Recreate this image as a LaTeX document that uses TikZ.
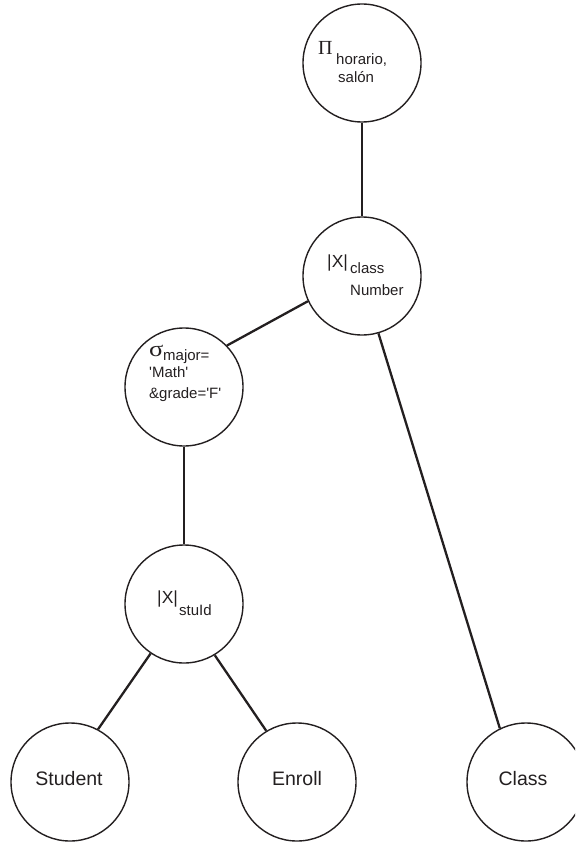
\documentclass[tikz,border=0pt]{standalone}
\usepackage{fontspec}
\setmainfont{Liberation Sans}
\newfontfamily\plainsans{Liberation Sans}[Ligatures=ResetAll]
\newfontfamily\grk{Liberation Serif}
\definecolor{ink}{HTML}{231F20}
\begin{document}
\begin{tikzpicture}[x=1pt,y=-1pt,
  circ/.style={draw=ink, circle, line width=1.4pt, minimum size=118pt, inner sep=0pt},
  edge/.style={draw=ink, line width=2.3pt},
  lbl/.style={anchor=base, inner sep=0pt, text=ink, font=\fontsize{19.5}{20}\selectfont},
  greek/.style={anchor=base west, inner sep=0pt, text=ink, font=\grk\fontsize{20}{20}\selectfont},
  jn/.style={anchor=base west, inner sep=0pt, text=ink, font=\fontsize{17.5}{18}\selectfont},
  sub/.style={anchor=base west, inner sep=0pt, text=ink, font=\plainsans\fontsize{15}{16}\selectfont}]
\useasboundingbox (0,0) rectangle (575,842);
\clip (0,0) rectangle (575,842);
% circles
\node[circ] (pi)  at (362,63)  {};
\node[circ] (j1)  at (362,276) {};
\node[circ] (sig) at (184,387) {};
\node[circ] (j2)  at (184,604) {};
\node[circ] (stu) at (70,782)  {};
\node[circ] (enr) at (297,782) {};
\node[circ] (cls) at (526,782) {};
% labels
\node[greek] (pisym) at (318,55) {Π};
\node[sub] (pisub1) at (336,65) {horario,};
\node[sub] (pisub2) at (338,83) {salón};
\node[jn] (j1sym) at (327,267) {|X|};
\node[sub] (j1sub1) at (350,273) {class};
\node[sub] (j1sub2) at (350,295) {Number};
\node[greek, font=\grk\fontsize{22}{22}\selectfont, xscale=1.2] (sigsym) at (149,356) {σ};
\node[sub] (sigsub1) at (163,360) {major=};
\node[sub] (sigsub2) at (149,377) {'Math'};
\node[sub] (sigsub3) at (149,398) {\&grade='F'};
\node[jn] (j2sym) at (157,603) {|X|};
\node[sub] (j2sub) at (179,615) {stuId};
\node[lbl] (stut) at (69,785) {Student};
\node[lbl] (enrt) at (297,785) {Enroll};
\node[lbl] (clst) at (523,785) {Class};
% edges
\draw[edge] (pi.south) -- (j1.north);
\draw[edge] (j1.205) -- (sig.44);
\draw[edge] (j1.-74) -- (cls.116);
\draw[edge] (sig.south) -- (j2.north);
\draw[edge] (j2.236) -- (stu.62);
\draw[edge] (j2.301) -- (enr.121);
\end{tikzpicture}
\end{document}
